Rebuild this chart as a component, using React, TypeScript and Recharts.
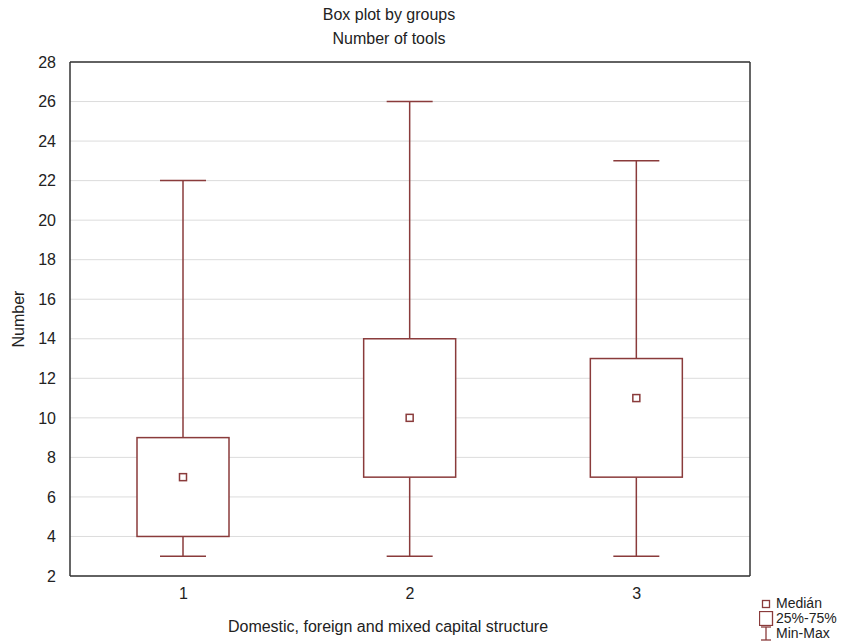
import React from "react";
import {
  Bar,
  CartesianGrid,
  ComposedChart,
  XAxis,
  YAxis,
} from "recharts";

const groups = ["1", "2", "3"];
const mins = [3, 3, 3];
const q1s = [4, 7, 7];
const medians = [7, 10, 11];
const q3s = [9, 14, 13];
const maxs = [22, 26, 23];
const yTicks = [2, 4, 6, 8, 10, 12, 14, 16, 18, 20, 22, 24, 26, 28];

const BOX = "#8a3b3b";
const FONT = "'Liberation Sans', Arial, sans-serif";

const data = groups.map((g, i) => ({
  group: g,
  range: [mins[i], maxs[i]],
  q1: q1s[i],
  median: medians[i],
  q3: q3s[i],
}));

// range bar gives pixel y of max and height down to min; map the other stats the same way
function BoxShape(props: any) {
  const { x, y, width, height, payload } = props;
  const [lo, hi] = payload.range;
  const perUnit = height / (hi - lo);
  const py = (v: number) => y + (hi - v) * perUnit;
  const cx = x + width / 2;
  const cap = width / 4;
  const yQ1 = py(payload.q1);
  const yQ3 = py(payload.q3);
  const yMed = py(payload.median);
  return (
    <g stroke={BOX} strokeWidth={1.5} fill="none">
      <line x1={cx} x2={cx} y1={py(hi)} y2={yQ3} />
      <line x1={cx} x2={cx} y1={yQ1} y2={py(lo)} />
      <line x1={cx - cap} x2={cx + cap} y1={py(hi)} y2={py(hi)} />
      <line x1={cx - cap} x2={cx + cap} y1={py(lo)} y2={py(lo)} />
      <rect x={x} y={yQ3} width={width} height={yQ1 - yQ3} fill="#fff" />
      <rect x={cx - 3.5} y={yMed - 3.5} width={7} height={7} fill="#fff" />
    </g>
  );
}

function LegendBox() {
  const row = { display: "flex", alignItems: "center", height: 15, overflow: "hidden" as const };
  return (
    <div style={{ fontFamily: FONT, fontSize: 14, color: "#222", lineHeight: "15px" }}>
      <div style={row}>
        <svg width={17} height={15}>
          <rect x={3.5} y={4.5} width={7} height={7} fill="#fff" stroke={BOX} strokeWidth={1.3} />
        </svg>
        <span>Medián</span>
      </div>
      <div style={row}>
        <svg width={17} height={15}>
          <rect x={0.5} y={0.5} width={13} height={14} fill="#fff" stroke={BOX} strokeWidth={1.3} />
        </svg>
        <span>25%-75%</span>
      </div>
      <div style={row}>
        <svg width={17} height={15}>
          <g stroke={BOX} strokeWidth={1.3}>
            <line x1={2} x2={12} y1={1} y2={1} />
            <line x1={7} x2={7} y1={1} y2={14} />
            <line x1={2} x2={12} y1={14} y2={14} />
          </g>
        </svg>
        <span>Min-Max</span>
      </div>
    </div>
  );
}

export default function App() {
  const tickStyle = { fontFamily: FONT, fontSize: 16, fill: "#222" };
  return (
    <div style={{ position: "absolute", left: 0, top: 0, width: 859, height: 642, background: "#fff" }}>
      <div
        style={{
          position: "absolute",
          left: 0,
          width: 778,
          top: 3,
          textAlign: "center",
          fontFamily: FONT,
          fontSize: 16,
          lineHeight: "24px",
          color: "#222",
        }}
      >
        <div>Box plot by groups</div>
        <div>Number of tools</div>
      </div>
      <ComposedChart
        width={859}
        height={642}
        data={data}
        margin={{ top: 62, right: 109, bottom: 36, left: 20 }}
      >
        <CartesianGrid stroke="#dcdcdc" vertical={false} />
        <XAxis
          dataKey="group"
          type="category"
          stroke="#333"
          strokeWidth={1.5}
          tick={tickStyle}
          tickLine={false}
          tickSize={4}
          tickMargin={8}
          height={30}
        />
        <XAxis
          xAxisId="top"
          dataKey="group"
          orientation="top"
          mirror
          height={1}
          tick={false}
          tickSize={4}
          stroke="#333"
          strokeWidth={1.5}
        />
        <YAxis
          domain={[2, 28]}
          ticks={yTicks}
          type="number"
          stroke="#333"
          strokeWidth={1.5}
          tick={tickStyle}
          tickLine={false}
          tickMargin={8}
          width={50}
          label={{
            value: "Number",
            angle: -90,
            position: "insideLeft",
            offset: -2,
            style: { fontFamily: FONT, fontSize: 16, fill: "#222", textAnchor: "middle" },
          }}
        />
        <YAxis
          yAxisId="right"
          orientation="right"
          mirror
          domain={[2, 28]}
          ticks={yTicks}
          type="number"
          width={1}
          tick={false}
          tickSize={4}
          stroke="#333"
          strokeWidth={1.5}
        />
        <Bar dataKey="range" barSize={92} shape={BoxShape} isAnimationActive={false} />
      </ComposedChart>
      <div style={{ position: "absolute", left: 759, top: 596 }}>
        <LegendBox />
      </div>
      <div
        style={{
          position: "absolute",
          left: 0,
          width: 776,
          top: 618,
          textAlign: "center",
          fontFamily: FONT,
          fontSize: 16,
          color: "#222",
        }}
      >
        Domestic, foreign and mixed capital structure
      </div>
    </div>
  );
}
